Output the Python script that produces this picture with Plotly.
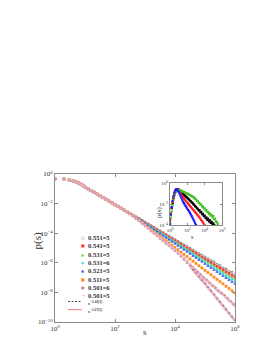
import plotly.graph_objects as go

# ---------------- data (log10 values) ----------------
log_s = [0, 0.301, 0.477, 0.602, 0.699, 0.778, 0.845, 0.903, 0.954,
         1.0, 1.1, 1.2, 1.3, 1.4, 1.5, 1.6, 1.7, 1.8, 1.9, 2.0, 2.1, 2.2, 2.3, 2.4,
         2.5, 2.6, 2.7, 2.8, 2.9, 3.0, 3.1, 3.2, 3.3, 3.4, 3.5, 3.6, 3.7, 3.8, 3.9,
         4.0, 4.1, 4.2, 4.3, 4.4, 4.5, 4.6, 4.7, 4.8, 4.9, 5.0, 5.1, 5.2, 5.3, 5.4,
         5.5, 5.6, 5.7, 5.8, 5.9, 6.0]

log_s_fine = log_s[:45] + [4.55, 4.6, 4.65, 4.7, 4.75, 4.8, 4.85, 4.9, 4.95, 5.0,
                           5.05, 5.1, 5.15, 5.2, 5.25, 5.3, 5.35, 5.4, 5.45, 5.5,
                           5.55, 5.6, 5.65, 5.7, 5.75, 5.8, 5.85, 5.9, 5.95, 6.0]

head = [-0.33, -0.34, -0.40, -0.46, -0.53, -0.60, -0.67, -0.73, -0.80,
        -0.88, -1.00, -1.12, -1.23, -1.35, -1.47, -1.59, -1.71, -1.83, -1.95,
        -2.07, -2.19, -2.31, -2.43, -2.55]

p_055_5 = head + [-2.67, -2.79, -2.91, -3.02, -3.14, -3.26, -3.38, -3.50, -3.61, -3.73,
                  -3.85, -3.97, -4.09, -4.20, -4.32, -4.44, -4.56, -4.68, -4.79, -4.91,
                  -5.03, -5.15, -5.27, -5.38, -5.50, -5.62, -5.74, -5.86, -5.95, -6.12,
                  -6.19, -6.36, -6.42, -6.60, -6.64, -6.82]
p_054_5 = head + [-2.67, -2.79, -2.92, -3.04, -3.16, -3.29, -3.41, -3.53, -3.65, -3.78,
                  -3.90, -4.02, -4.15, -4.27, -4.39, -4.52, -4.64, -4.76, -4.89, -5.01,
                  -5.13, -5.26, -5.38, -5.50, -5.62, -5.75, -5.87, -5.99, -6.12, -6.24,
                  -6.36, -6.49, -6.61, -6.73, -6.86, -6.98]
p_053_5 = head + [-2.67, -2.80, -2.93, -3.05, -3.18, -3.31, -3.44, -3.56, -3.69, -3.82,
                  -3.95, -4.07, -4.20, -4.33, -4.46, -4.59, -4.71, -4.84, -4.97, -5.10,
                  -5.22, -5.35, -5.48, -5.61, -5.73, -5.86, -5.99, -6.12, -6.25, -6.37,
                  -6.50, -6.63, -6.76, -6.88, -7.01, -7.14]
p_053_6 = head + [-2.67, -2.80, -2.93, -3.06, -3.19, -3.33, -3.46, -3.59, -3.72, -3.85,
                  -3.98, -4.11, -4.24, -4.37, -4.51, -4.64, -4.77, -4.90, -5.03, -5.16,
                  -5.29, -5.42, -5.55, -5.69, -5.82, -5.95, -6.08, -6.21, -6.34, -6.47,
                  -6.60, -6.73, -6.87, -7.00, -7.13, -7.26]
p_052_5 = head + [-2.67, -2.81, -2.94, -3.08, -3.21, -3.35, -3.49, -3.62, -3.76, -3.89,
                  -4.03, -4.17, -4.30, -4.44, -4.57, -4.71, -4.85, -4.98, -5.12, -5.25,
                  -5.39, -5.53, -5.66, -5.80, -5.93, -6.07, -6.21, -6.34, -6.48, -6.61,
                  -6.75, -6.89, -7.02, -7.16, -7.29, -7.43]
p_051_5 = head + [-2.67, -2.82, -2.98, -3.13, -3.28, -3.44, -3.59, -3.74, -3.90, -4.05,
                  -4.20, -4.36, -4.51, -4.66, -4.82, -4.97, -5.12, -5.28, -5.43, -5.58,
                  -5.74, -5.89, -6.04, -6.20, -6.35, -6.51, -6.66, -6.81, -6.97, -7.12,
                  -7.27, -7.42, -7.58, -7.73, -7.88, -8.04]
p_050_6 = head + [-2.67, -2.84, -3.01, -3.17, -3.34, -3.51, -3.68, -3.85, -4.01, -4.18,
                  -4.35, -4.52, -4.69, -4.85, -5.02, -5.19, -5.36, -5.57, -5.77, -5.98,
                  -6.19,
                  -6.24, -6.48, -6.44, -6.70, -6.62, -6.95, -6.80, -7.18, -7.00, -7.40,
                  -7.15, -7.65, -7.35, -7.90, -7.55, -8.15, -7.70, -8.40, -7.90, -8.65,
                  -8.05, -8.90, -8.20, -9.15, -8.40, -9.40, -8.60, -9.65, -8.80, -9.85]
p_050_5 = head + [-2.66, -2.82, -2.98, -3.14, -3.30, -3.47, -3.63, -3.79, -3.96, -4.12,
                  -4.29, -4.45, -4.62, -4.78, -4.95, -5.12, -5.29, -5.48, -5.68, -5.88,
                  -6.08,
                  -6.35, -6.30, -6.62, -6.52, -6.85, -6.70, -7.08, -6.90, -7.30, -7.10,
                  -7.55, -7.25, -7.80, -7.45, -8.05, -7.60, -8.30, -7.85, -8.55, -8.00,
                  -8.80, -8.15, -9.05, -8.35, -9.30, -8.55, -9.55, -8.70, -9.80, -8.90]

# inset data
log_s_in = [0.0, 0.1, 0.2, 0.3, 0.4, 0.5, 0.6, 0.7, 0.8, 0.9, 1.0, 1.1, 1.2, 1.3, 1.4,
            1.5, 1.6, 1.7, 1.8, 1.9, 2.0, 2.1, 2.2, 2.3, 2.4, 2.5, 2.6, 2.7, 2.8, 2.9,
            3.0, 3.1, 3.2, 3.3, 3.4, 3.5, 3.6, 3.7, 3.8, 3.9, 4.0, 4.1, 4.2, 4.3, 4.4,
            4.5, 4.6, 4.7, 4.8, 4.9, 5.0, 5.1, 5.2, 5.3, 5.4, 5.5]
in_black = [-3.5, -3.0, -2.4, -1.9, -1.45, -1.1, -0.85, -0.7, -0.62, -0.6, -0.63, -0.69,
            -0.77, -0.86, -0.95, -1.04, -1.12, -1.20, -1.27, -1.34, -1.42, -1.50, -1.58,
            -1.67, -1.74, -1.84, -1.90, -2.02, -2.08, -2.22, -2.26, -2.41, -2.45, -2.62,
            -2.58, -2.80, -2.75, -2.98, -2.93, -3.16, -3.10, -3.35, -3.28, -3.52, -3.40,
            -3.66, -3.55, -3.80, -3.70, -3.92, -3.85, -4.0]
in_red = [-3.6, -2.9, -2.3, -1.8, -1.35, -1.0, -0.75, -0.62, -0.58, -0.62, -0.72, -0.84,
          -0.96, -1.09, -1.22, -1.35, -1.47, -1.58, -1.68, -1.78, -1.88, -1.98, -2.08,
          -2.18, -2.28, -2.38, -2.48, -2.58, -2.68, -2.78, -2.88, -2.98, -3.08, -3.18,
          -3.28, -3.40, -3.52, -3.64, -3.76, -3.88, -4.0]
in_green = [-3.8, -3.3, -2.7, -2.1, -1.6, -1.2, -0.95, -0.8, -0.72, -0.68, -0.67, -0.68,
            -0.71, -0.74, -0.78, -0.82, -0.86, -0.90, -0.94, -0.98, -1.02, -1.06, -1.10,
            -1.15, -1.19, -1.24, -1.28, -1.35, -1.40, -1.52, -1.55, -1.70, -1.72, -1.88,
            -1.90, -2.05, -2.06, -2.25, -2.22, -2.42, -2.40, -2.60, -2.58, -2.78, -2.75,
            -2.95, -2.90, -3.10, -3.05, -3.28, -3.15, -3.45, -3.40, -3.65, -3.72, -3.90]
in_blue = [-3.9, -3.0, -2.3, -1.7, -1.25, -0.9, -0.7, -0.6, -0.62, -0.72, -0.85, -1.03,
           -1.21, -1.40, -1.59, -1.78, -1.92, -2.06, -2.19, -2.32, -2.45, -2.58, -2.70,
           -2.84, -2.99, -3.15, -3.31, -3.48, -3.65, -3.83, -4.0]

labels = ["0.551=5", "0.541=5", "0.531=5", "0.531=6", "0.521=5", "0.511=5", "0.501=6", "0.501=5"]
fit_labels = ["s<sup>−1.16(1)</sup>", "s<sup>−1.17(1)</sup>"]
y_ticks = [0, -2, -4, -6, -8, -10]
x_ticks = [0, 2, 4, 6]

# ---------------- styles ----------------
series = [
    (log_s, p_055_5, "#222222", "circle-open", "○"),
    (log_s, p_054_5, "#ff3b3b", "square", "■"),
    (log_s, p_053_5, "#6fd24a", "triangle-up", "▲"),
    (log_s, p_053_6, "#3fe0c8", "diamond", "◆"),
    (log_s, p_052_5, "#3344ff", "triangle-up", "▲"),
    (log_s, p_051_5, "#ff8c1a", "square", "■"),
    (log_s_fine, p_050_6, "#b98585", "circle", "●"),
    (log_s_fine, p_050_5, "#e8b0c8", "cross", "+"),
]

fig = go.Figure()
for xs, ys, col, sym, _ in series:
    fig.add_trace(go.Scatter(
        x=[10 ** v for v in xs], y=[10 ** v for v in ys], mode="markers",
        marker=dict(symbol=sym, size=2.3, color=col,
                    line=dict(width=0.5, color=col)),
        showlegend=False, xaxis="x", yaxis="y"))

for ys, col in [(in_black, "#000000"), (in_red, "#ff2020"), (in_green, "#44c022"), (in_blue, "#1a1aff")]:
    fig.add_trace(go.Scatter(
        x=[10 ** v for v in log_s_in[:len(ys)]], y=[10 ** v for v in ys], mode="markers",
        marker=dict(symbol="square", size=2.2, color=col),
        showlegend=False, xaxis="x2", yaxis="y2"))

W, H = 274, 354
L, R, T, B = 47, 227, 166, 314


def px(x):
    return (x - L) / (R - L)


def py(y):
    return (B - y) / (B - T)


serif = "Liberation Serif, Times New Roman, serif"
axcol = "#8a8a8a"
txtcol = "#333333"

common = dict(type="log", showgrid=False, zeroline=False, showline=True, linecolor=axcol,
              linewidth=1, mirror="ticks", ticks="inside", tickcolor=axcol, ticklen=3,
              tickfont=dict(family=serif, size=7, color=txtcol))

fig.update_layout(
    width=W, height=H, autosize=False,
    margin=dict(l=L, r=W - R, t=T, b=H - B, pad=0),
    paper_bgcolor="white", plot_bgcolor="white",
    xaxis=dict(common, range=[0, 6], tickvals=[10 ** v for v in x_ticks],
               ticktext=["10<sup>%d</sup>" % v for v in x_ticks], domain=[0, 1]),
    yaxis=dict(common, range=[-10, 0], tickvals=[10 ** v for v in y_ticks],
               ticktext=["10<sup>%s</sup>" % (str(v).replace("-", "−")) for v in y_ticks],
               domain=[0, 1]),
    xaxis2=dict(common, range=[0, 6], anchor="y2", domain=[px(162), px(214)],
                tickvals=[1, 1e2, 1e4, 1e6], ticklen=2,
                ticktext=["10<sup>0</sup>", "10<sup>2</sup>", "10<sup>4</sup>", "10<sup>6</sup>"],
                tickfont=dict(family=serif, size=5, color=txtcol)),
    yaxis2=dict(common, range=[-4, 0], anchor="x2", domain=[py(217), py(175)],
                tickvals=[1, 1e-2, 1e-4], ticklen=2,
                ticktext=["10<sup>0</sup>", "10<sup>−2</sup>", "10<sup>−4</sup>"],
                tickfont=dict(family=serif, size=5, color=txtcol)),
    showlegend=False,
)

ann = []
ann.append(dict(text="p(s)", x=px(20), y=py(233), xref="paper", yref="paper", showarrow=False,
                textangle=-90, font=dict(family=serif, size=11, color=txtcol)))
ann.append(dict(text="s", x=px(137), y=py(331), xref="paper", yref="paper", showarrow=False,
                font=dict(family=serif, size=9, color=txtcol)))
ann.append(dict(text="p(s)", x=px(151), y=py(196), xref="paper", yref="paper", showarrow=False,
                textangle=-90, font=dict(family=serif, size=7, color=txtcol)))
ann.append(dict(text="s", x=px(188), y=py(229), xref="paper", yref="paper", showarrow=False,
                font=dict(family=serif, size=6, color=txtcol)))

rows = [229.3, 237.7, 246.0, 254.3, 262.7, 271.0, 279.3, 287.5]
for (xs, ys, col, sym, ch), lab, yy in zip(series, labels, rows):
    ann.append(dict(text=ch, x=px(75), y=py(yy), xref="paper", yref="paper", showarrow=False,
                    xanchor="center", yanchor="middle", font=dict(family="DejaVu Sans", size=4, color=col)))
    ann.append(dict(text="<b>%s</b>" % lab, x=px(78), y=py(yy), xref="paper", yref="paper",
                    showarrow=False, xanchor="left", yanchor="middle",
                    font=dict(family=serif, size=6.5, color=txtcol)))

shapes = []
for yy, col, dash, lab in [(293.5, "#222222", "2px,1.5px", fit_labels[0]), (301.7, "#ff5050", "solid", fit_labels[1])]:
    shapes.append(dict(type="line", xref="paper", yref="paper", x0=px(60), x1=px(74),
                       y0=py(yy), y1=py(yy), line=dict(color=col, width=0.8, dash=dash)))
    ann.append(dict(text="<b>%s</b>" % lab, x=px(78), y=py(yy + 1), xref="paper", yref="paper",
                    showarrow=False, xanchor="left", yanchor="middle",
                    font=dict(family=serif, size=5, color=txtcol)))

fig.update_layout(annotations=ann, shapes=shapes)
fig.write_html("out.html")
